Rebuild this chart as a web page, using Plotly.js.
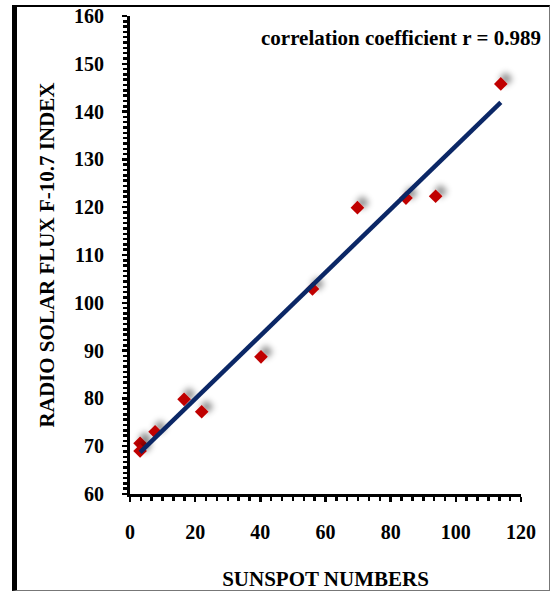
<!DOCTYPE html>
<html>
<head>
<meta charset="utf-8">
<script src="https://cdn.plot.ly/plotly-3.0.1.min.js"></script>
<style>
  html, body { margin: 0; padding: 0; background: #fff; }
  #wrap { position: relative; width: 552px; height: 592px; }
  #frame {
    position: absolute; left: 12px; top: 5px; width: 532px; height: 583px;
    border-left: 5px solid #000; border-top: 2px solid #000;
    border-right: 1px solid #777; border-bottom: 1px solid #777;
    pointer-events: none; z-index: 5;
  }
  #chart { position: absolute; left: 0; top: 0; width: 552px; height: 592px; }
</style>
</head>
<body>
<div id="wrap">
  <div id="chart"></div>
  <div id="frame"></div>
</div>
<script>
// Monthly sunspot numbers vs. 10.7 cm radio solar flux
const sunspotNumbers = [3.1, 3.1, 7.7, 16.6, 22.0, 40.2, 56.0, 69.8, 84.7, 93.8, 113.8];
const radioFlux      = [70.6, 69.0, 73.0, 79.8, 77.2, 88.7, 102.9, 119.9, 121.9, 122.3, 145.8];
const xTickStep = 20, yTickStep = 10;
const xRange = [0, 120], yRange = [60, 160];
const corrLabel = 'correlation coefficient r = 0.989';

// least-squares trend line over the observed range
function linearFit(xs, ys) {
  const n = xs.length;
  const mx = xs.reduce((a, b) => a + b, 0) / n;
  const my = ys.reduce((a, b) => a + b, 0) / n;
  let sxy = 0, sxx = 0;
  for (let i = 0; i < n; i++) { sxy += (xs[i] - mx) * (ys[i] - my); sxx += (xs[i] - mx) ** 2; }
  const slope = sxy / sxx;
  return { slope, intercept: my - slope * mx };
}
const fit = linearFit(sunspotNumbers, radioFlux);
const xMin = Math.min(...sunspotNumbers), xMax = Math.max(...sunspotNumbers);
const trendX = [xMin, xMax];
const trendY = trendX.map(x => fit.intercept + fit.slope * x);

const serif = '"Liberation Serif", "Times New Roman", serif';

const points = {
  x: sunspotNumbers, y: radioFlux, type: 'scatter', mode: 'markers',
  marker: { symbol: 'diamond', size: 10.5, color: '#c00000', line: { width: 0 } },
  hoverinfo: 'x+y', showlegend: false
};
const trend = {
  x: trendX, y: trendY, type: 'scatter', mode: 'lines',
  line: { color: '#0b2766', width: 4.5 },
  hoverinfo: 'skip', showlegend: false
};

const axisCommon = {
  showgrid: false, zeroline: false, showline: true,
  linecolor: '#000', linewidth: 3, mirror: false,
  ticks: 'outside', ticklen: 5, tickwidth: 2.5, tickcolor: '#000',
  tickfont: { family: serif, size: 20, color: '#000', weight: 'bold' },
  fixedrange: true
};

const layout = {
  width: 552, height: 592,
  margin: { l: 130, r: 31, t: 16, b: 98 },
  paper_bgcolor: 'rgba(0,0,0,0)', plot_bgcolor: '#fff',
  font: { family: serif, color: '#000' },
  xaxis: Object.assign({}, axisCommon, {
    range: xRange, tickmode: 'linear', tick0: 0, dtick: xTickStep,
    ticklabelstandoff: 13,
    minor: { ticks: 'outside', ticklen: 4, tickwidth: 2.5, tickcolor: '#000', dtick: xTickStep / 6, tick0: 0, showgrid: false },
    title: { text: 'SUNSPOT NUMBERS', font: { family: serif, size: 21, weight: 'bold', color: '#000' }, standoff: 30 }
  }),
  yaxis: Object.assign({}, axisCommon, {
    range: yRange, tickmode: 'linear', tick0: 60, dtick: yTickStep,
    ticklabelstandoff: 14,
    minor: { ticks: 'outside', ticklen: 4, tickwidth: 2.5, tickcolor: '#000', dtick: yTickStep / 9, tick0: 60, showgrid: false },
    title: { text: 'RADIO SOLAR FLUX F-10.7 INDEX', font: { family: serif, size: 21, weight: 'bold', color: '#000' }, standoff: 14 }
  }),
  annotations: [{
    text: corrLabel, xref: 'paper', yref: 'paper',
    x: 1.056, y: 0.954, xanchor: 'right', yanchor: 'middle', showarrow: false,
    font: { family: serif, size: 21, weight: 'bold', color: '#000' }
  }]
};

const gd = document.getElementById('chart');
Plotly.newPlot(gd, [points, trend], layout, { displayModeBar: false, staticPlot: true }).then(() => {
  // soft drop shadow behind the markers
  const svg = gd.querySelector('svg.main-svg');
  const ns = 'http://www.w3.org/2000/svg';
  let defs = svg.querySelector('defs');
  if (!defs) { defs = document.createElementNS(ns, 'defs'); svg.insertBefore(defs, svg.firstChild); }
  const f = document.createElementNS(ns, 'filter');
  f.setAttribute('id', 'markerShadow');
  f.setAttribute('x', '-150%'); f.setAttribute('y', '-150%');
  f.setAttribute('width', '400%'); f.setAttribute('height', '400%');
  const ds = document.createElementNS(ns, 'feDropShadow');
  ds.setAttribute('dx', '5'); ds.setAttribute('dy', '-5');
  ds.setAttribute('stdDeviation', '3');
  ds.setAttribute('flood-color', '#000'); ds.setAttribute('flood-opacity', '0.45');
  f.appendChild(ds);
  defs.appendChild(f);
  const traces = gd.querySelectorAll('.scatterlayer .trace');
  traces[0].querySelectorAll('.points path').forEach(p => p.setAttribute('filter', 'url(#markerShadow)'));
});
</script>
</body>
</html>
